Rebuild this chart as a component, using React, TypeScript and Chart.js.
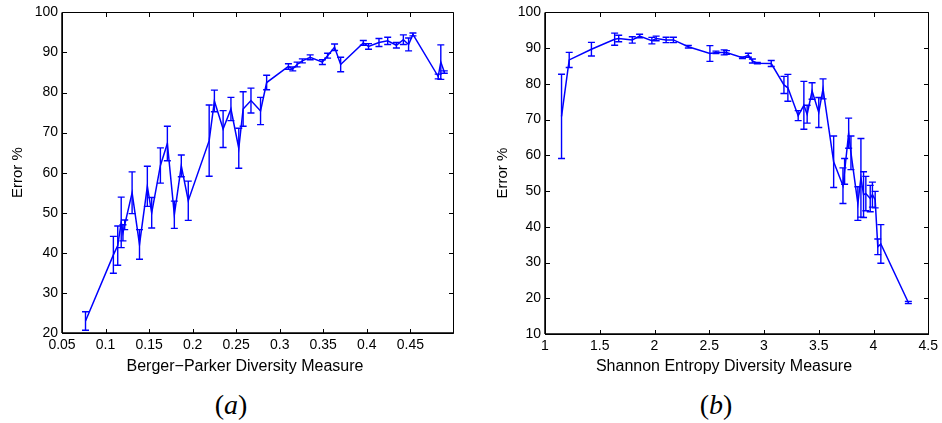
import React, { useEffect, useRef } from "react";
import { Chart, registerables } from "chart.js";

Chart.register(...registerables);

// ---- Panel (a): Berger-Parker ----
const BP_X = [
  0.077, 0.109, 0.114, 0.118, 0.120, 0.122, 0.1305, 0.139, 0.148, 0.153,
  0.163, 0.171, 0.179, 0.187, 0.195, 0.219, 0.225, 0.235, 0.244, 0.253,
  0.258, 0.267, 0.278, 0.285, 0.310, 0.315, 0.320, 0.326, 0.335, 0.349,
  0.355, 0.363, 0.370, 0.396, 0.402, 0.414, 0.424, 0.434, 0.442, 0.448,
  0.453, 0.482, 0.485, 0.489,
];
const BP_MEAN = [
  23.0, 39.5, 41.8, 47.6, 45.0, 47.0, 55.0, 42.1, 56.6, 50.0,
  61.8, 67.3, 49.5, 61.7, 53.0, 68.0, 77.9, 70.9, 75.9, 66.1,
  75.9, 78.0, 75.4, 82.5, 86.5, 85.9, 87.0, 87.9, 88.8, 87.6,
  89.2, 91.3, 87.0, 92.4, 91.5, 92.5, 92.9, 91.8, 93.2, 92.0,
  94.5, 84.0, 87.6, 85.1,
];
const BP_ERR = [
  2.3, 4.6, 4.9, 6.3, 2.0, 1.2, 5.2, 3.7, 5.0, 3.8,
  4.4, 4.3, 3.4, 2.7, 4.9, 8.9, 2.7, 4.6, 2.9, 5.0,
  4.3, 3.1, 3.4, 1.8, 0.7, 0.5, 0.6, 0.5, 0.6, 0.6,
  0.6, 0.8, 1.8, 0.6, 0.7, 1.0, 0.9, 0.7, 1.2, 1.6,
  0.35, 0.6, 4.3, 0.3,
];
const BP_X_TICKS = [0.05, 0.1, 0.15, 0.2, 0.25, 0.3, 0.35, 0.4, 0.45];
const BP_Y_TICKS = [20, 30, 40, 50, 60, 70, 80, 90, 100];

// ---- Panel (b): Shannon entropy ----
const SH_X = [
  1.151, 1.221, 1.424, 1.636, 1.673, 1.797, 1.864, 1.976, 2.015, 2.106,
  2.173, 2.309, 2.506, 2.561, 2.636, 2.657, 2.803, 2.857, 2.894, 2.939,
  3.066, 3.182, 3.218, 3.312, 3.364, 3.394, 3.439, 3.500, 3.539, 3.636,
  3.721, 3.736, 3.773, 3.794, 3.857, 3.885, 3.909, 3.930, 3.970, 3.990,
  4.015, 4.039, 4.067, 4.318,
];
const SH_MEAN = [
  70.9, 86.7, 89.7, 92.5, 92.7, 92.3, 93.4, 92.1, 92.7, 92.3,
  92.3, 90.4, 88.5, 88.8, 88.8, 88.8, 87.3, 88.0, 86.4, 85.8,
  85.7, 79.7, 78.9, 71.1, 74.0, 71.5, 78.0, 72.0, 78.6, 58.2,
  51.5, 55.5, 66.2, 60.7, 46.5, 53.7, 49.0, 49.3, 47.9, 49.0,
  47.6, 34.4, 35.2, 18.8,
];
const SH_ERR = [
  11.8, 2.1, 1.9, 1.7, 0.9, 0.9, 0.5, 0.9, 0.65, 0.75,
  0.75, 0.35, 2.2, 0.35, 0.7, 0.5, 0.25, 0.55, 0.55, 0.2,
  0.85, 2.4, 3.75, 1.4, 6.7, 2.5, 2.3, 4.2, 2.8, 7.2,
  5.0, 3.6, 4.2, 4.7, 4.7, 11.0, 6.4, 4.8, 3.7, 3.5,
  2.3, 2.2, 5.4, 0.3,
];
const SH_X_TICKS = [1, 1.5, 2, 2.5, 3, 3.5, 4, 4.5];
const SH_Y_TICKS = [10, 20, 30, 40, 50, 60, 70, 80, 90, 100];

const BLUE = "#0000ff";
const SANS = "'Liberation Sans', Arial, Helvetica, sans-serif";

const errorBarPlugin = {
  id: "errorBars",
  afterDatasetsDraw(chart: any, _args: any, opts: any) {
    const { ctx } = chart;
    const xs = chart.scales.x;
    const ys = chart.scales.y;
    const errs: number[] = opts.errors || [];
    const pts = chart.data.datasets[0].data as { x: number; y: number }[];
    const cap = 3.5;
    ctx.save();
    ctx.strokeStyle = BLUE;
    ctx.lineWidth = 1.4;
    pts.forEach((p, i) => {
      const e = errs[i] || 0;
      const px = xs.getPixelForValue(p.x);
      const yTop = ys.getPixelForValue(p.y + e);
      const yBot = ys.getPixelForValue(p.y - e);
      ctx.beginPath();
      ctx.moveTo(px, yTop);
      ctx.lineTo(px, yBot);
      ctx.moveTo(px - cap, yTop);
      ctx.lineTo(px + cap, yTop);
      ctx.moveTo(px - cap, yBot);
      ctx.lineTo(px + cap, yBot);
      ctx.stroke();
    });
    ctx.restore();
  },
};

const framePlugin = {
  id: "matlabFrame",
  afterDraw(chart: any) {
    const { ctx, chartArea: a } = chart;
    const xs = chart.scales.x;
    const ys = chart.scales.y;
    const tl = 4.5;
    ctx.save();
    ctx.strokeStyle = "#000";
    ctx.lineWidth = 1;
    const L = Math.round(a.left) + 0.5;
    const R = Math.round(a.right) + 0.5;
    const T = Math.round(a.top) + 0.5;
    const B = Math.round(a.bottom) + 0.5;
    ctx.beginPath();
    ctx.rect(L, T, R - L, B - T);
    xs.ticks.forEach((t: any) => {
      const px = Math.round(xs.getPixelForValue(t.value)) + 0.5;
      ctx.moveTo(px, B);
      ctx.lineTo(px, B - tl);
      ctx.moveTo(px, T);
      ctx.lineTo(px, T + tl);
    });
    ys.ticks.forEach((t: any) => {
      const py = Math.round(ys.getPixelForValue(t.value)) + 0.5;
      ctx.moveTo(L, py);
      ctx.lineTo(L + tl, py);
      ctx.moveTo(R, py);
      ctx.lineTo(R - tl, py);
    });
    ctx.stroke();
    ctx.lineWidth = 1.5;
    ctx.beginPath();
    ctx.moveTo(a.left, a.bottom);
    ctx.lineTo(a.right, a.bottom);
    ctx.moveTo(a.left, a.top);
    ctx.lineTo(a.left, a.bottom);
    ctx.stroke();
    ctx.restore();
  },
};

type PanelProps = {
  xs: number[];
  means: number[];
  errs: number[];
  xTicks: number[];
  yTicks: number[];
  xMin: number;
  xMax: number;
  yMin: number;
  yMax: number;
  left: number;
  width: number;
  height: number;
  yAxisWidth: number;
  xAxisHeight: number;
  padTop: number;
  padRight: number;
  yTitleOffset: number;
};

function Panel(p: PanelProps) {
  const ref = useRef<HTMLCanvasElement | null>(null);
  useEffect(() => {
    if (!ref.current) return;
    const tickFont = { family: SANS, size: 14 };
    const chart = new Chart(ref.current, {
      type: "line",
      data: {
        datasets: [
          {
            data: p.xs.map((v, i) => ({ x: v, y: p.means[i] })),
            borderColor: BLUE,
            borderWidth: 1.5,
            pointRadius: 0,
            fill: false,
            tension: 0,
          },
        ],
      },
      options: {
        animation: false,
        responsive: false,
        maintainAspectRatio: false,
        events: [],
        layout: { padding: { top: p.padTop, right: p.padRight, left: 0, bottom: 0 } },
        plugins: {
          legend: { display: false },
          tooltip: { enabled: false },
          errorBars: { errors: p.errs },
        } as any,
        scales: {
          x: {
            type: "linear",
            min: p.xMin,
            max: p.xMax,
            afterBuildTicks: (s: any) => {
              s.ticks = p.xTicks.map((v) => ({ value: v }));
            },
            afterFit: (s: any) => {
              s.height = p.xAxisHeight;
            },
            grid: { display: false, drawTicks: false },
            border: { display: false },
            ticks: {
              color: "#000",
              font: tickFont,
              padding: 4,
              maxRotation: 0,
              autoSkip: false,
              callback: (v: any) => String(Number(Number(v).toFixed(2))),
            },
          },
          y: {
            type: "linear",
            min: p.yMin,
            max: p.yMax,
            afterBuildTicks: (s: any) => {
              s.ticks = p.yTicks.map((v) => ({ value: v }));
            },
            afterFit: (s: any) => {
              s.width = p.yAxisWidth;
            },
            grid: { display: false, drawTicks: false },
            border: { display: false },
            ticks: {
              color: "#000",
              font: tickFont,
              padding: 4,
              autoSkip: false,
              callback: (v: any) => String(v),
            },
            title: {
              display: true,
              text: "Error %",
              color: "#000",
              font: { family: SANS, size: 15 },
              padding: { top: p.yTitleOffset, bottom: 0 },
            },
          },
        },
      } as any,
      plugins: [errorBarPlugin, framePlugin],
    });
    return () => chart.destroy();
  }, []);
  return (
    <canvas
      ref={ref}
      width={p.width}
      height={p.height}
      style={{ position: "absolute", left: p.left, top: 0, width: p.width, height: p.height }}
    />
  );
}

const textStyle = (cx: number, cy: number): React.CSSProperties => ({
  position: "absolute",
  left: cx,
  top: cy,
  transform: "translate(-50%, -50%)",
  whiteSpace: "nowrap",
  fontFamily: SANS,
  fontSize: 16,
  color: "#000",
  lineHeight: 1,
});

const capStyle = (cx: number, cy: number): React.CSSProperties => ({
  position: "absolute",
  left: cx,
  top: cy,
  transform: "translate(-50%, -50%)",
  whiteSpace: "nowrap",
  fontFamily: "'Liberation Serif', 'DejaVu Serif', serif",
  fontSize: 28,
  color: "#000",
  lineHeight: 1,
});

export default function App() {
  return (
    <div
      style={{
        position: "absolute",
        left: 0,
        top: 0,
        width: 942,
        height: 423,
        background: "#fff",
        overflow: "hidden",
      }}
    >
      <Panel
        xs={BP_X}
        means={BP_MEAN}
        errs={BP_ERR}
        xTicks={BP_X_TICKS}
        yTicks={BP_Y_TICKS}
        xMin={0.05}
        xMax={0.499}
        yMin={20}
        yMax={100}
        left={0}
        width={470}
        height={385}
        yAxisWidth={62}
        xAxisHeight={52}
        padTop={9}
        padRight={17}
        yTitleOffset={8.6}
      />
      <Panel
        xs={SH_X}
        means={SH_MEAN}
        errs={SH_ERR}
        xTicks={SH_X_TICKS}
        yTicks={SH_Y_TICKS}
        xMin={1}
        xMax={4.5}
        yMin={10}
        yMax={100}
        left={470}
        width={472}
        height={385}
        yAxisWidth={75}
        xAxisHeight={51}
        padTop={9}
        padRight={12}
        yTitleOffset={23.6}
      />
      <div style={textStyle(245, 366)}>Berger−Parker Diversity Measure</div>
      <div style={textStyle(724, 366)}>Shannon Entropy Diversity Measure</div>
      <div style={capStyle(231, 405)}>
        (<i>a</i>)
      </div>
      <div style={capStyle(716, 405)}>
        (<i>b</i>)
      </div>
    </div>
  );
}
